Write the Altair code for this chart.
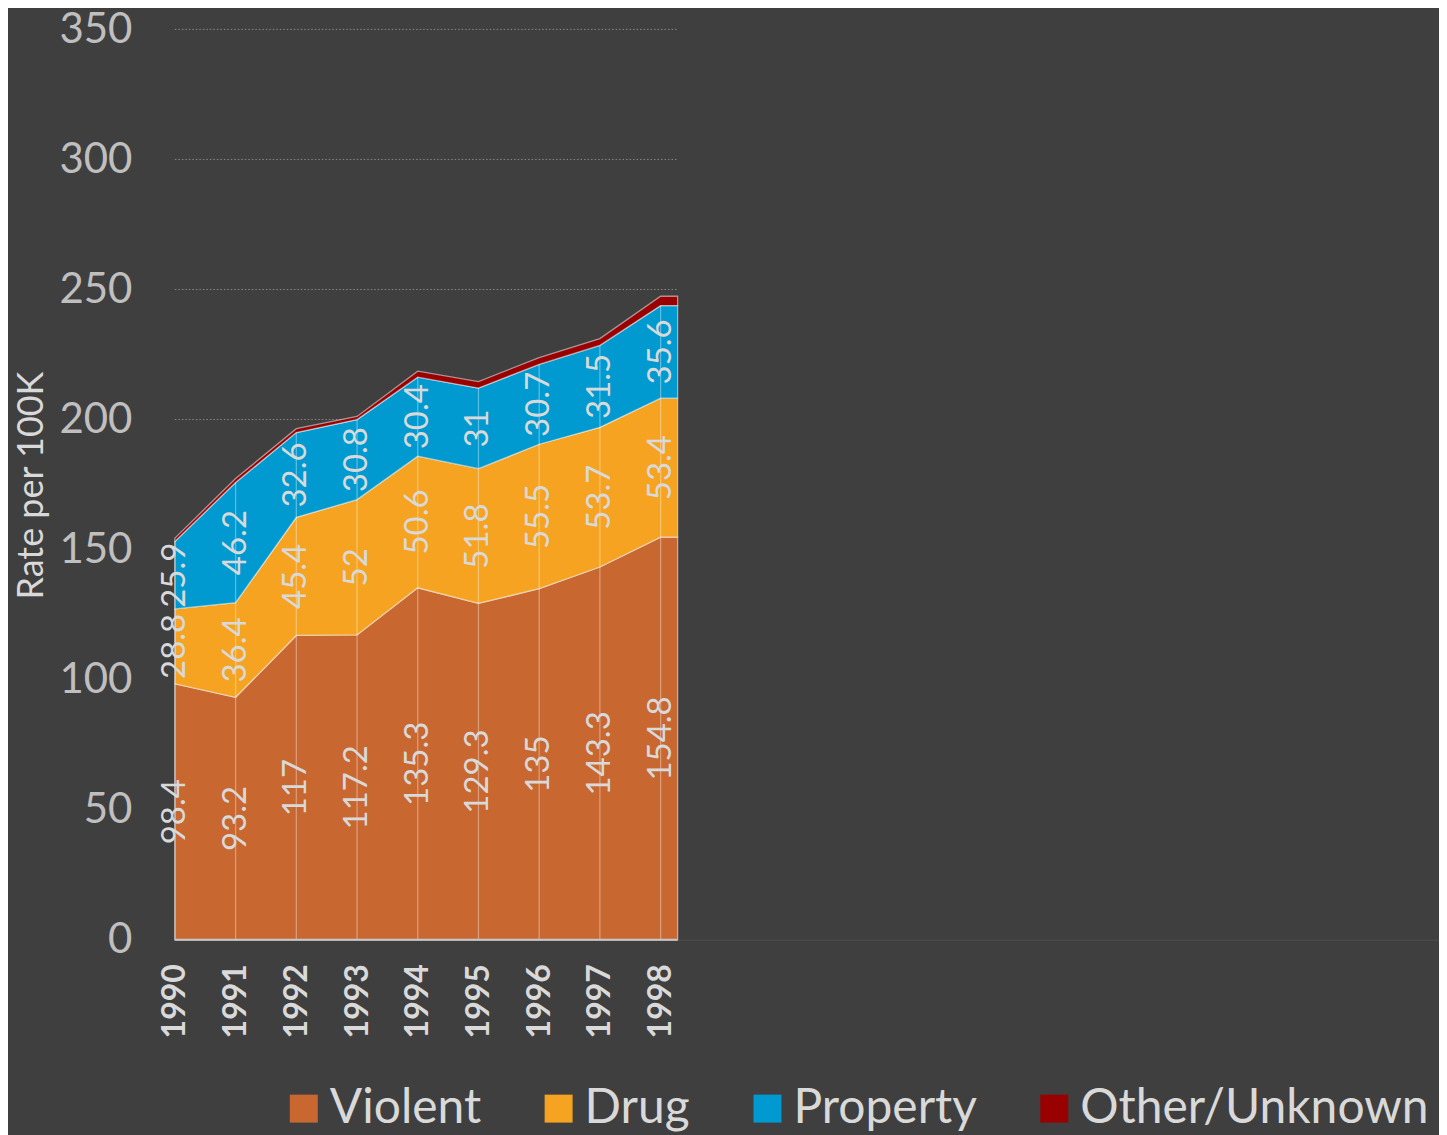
import altair as alt
import pandas as pd

years = [1990, 1991, 1992, 1993, 1994, 1995, 1996, 1997, 1998]
series = ["Violent", "Drug", "Property", "Other/Unknown"]
colors = ["#c8672f", "#f5a320", "#0099d0", "#990000"]
violent = [98.4, 93.2, 117, 117.2, 135.3, 129.3, 135, 143.3, 154.8]
drug = [28.8, 36.4, 45.4, 52, 50.6, 51.8, 55.5, 53.7, 53.4]
prop = [25.9, 46.2, 32.6, 30.8, 30.4, 31, 30.7, 31.5, 35.6]
other = [1.3, 1.5, 1.5, 1.2, 2.3, 2.5, 2.6, 2.6, 3.6]
y_ticks = [0, 50, 100, 150, 200, 250, 300, 350]

# style: how far the plotted band reaches past the last year (in x-units)
BAND_EXTEND = 0.28

values = [violent, drug, prop, other]
rows = []
for i, y in enumerate(years):
    base = 0.0
    for k, s in enumerate(series):
        v = values[k][i]
        rows.append({"year": y, "xpos": y, "series": s, "ord": k, "value": v,
                     "mid": base + v / 2, "label": f"{v:g}" if k < 3 else ""})
        base += v
df = pd.DataFrame(rows)
# the area band continues flat a little past the last year, as in the original
tail = df[df["year"] == years[-1]].copy()
tail["xpos"] = years[-1] + BAND_EXTEND
area_df = pd.concat([df, tail], ignore_index=True)

tot = pd.DataFrame({"year": years, "zero": [0] * len(years),
                    "total": [violent[i] + drug[i] + prop[i] for i in range(len(years))]})
grid_df = pd.DataFrame({"x": [years[0]] * len(y_ticks),
                        "x2": [years[-1] + BAND_EXTEND] * len(y_ticks),
                        "y": y_ticks})
base_df = pd.DataFrame({"x": [years[0]], "x2": [years[-1] + BAND_EXTEND], "y": [0]})

FONT = "Lato"
xscale = alt.Scale(domain=[1990, 2010.82], nice=False, zero=False)
yscale = alt.Scale(domain=[0, 350], nice=False)

grid = alt.Chart(grid_df).transform_filter("datum.y > 0").mark_rule(
    color="#8a8a8a", strokeDash=[1.5, 2], strokeWidth=1
).encode(
    x=alt.X("x:Q", scale=xscale), x2=alt.X2("x2:Q"), y=alt.Y("y:Q", scale=yscale)
)

area = alt.Chart(area_df).mark_area(
    stroke="#ffffff", strokeOpacity=0.5, strokeWidth=1.3, opacity=1
).encode(
    x=alt.X("xpos:Q", scale=xscale,
            axis=alt.Axis(values=years, format="d", title=None, grid=False, ticks=False,
                          domainColor="#4f4f4f", domainWidth=1,
                          labelAngle=270, labelFontWeight="bold", labelFontSize=32,
                          labelColor="#d9d9d9", labelPadding=24, labelFont=FONT)),
    y=alt.Y("value:Q", stack="zero", scale=yscale,
            axis=alt.Axis(values=y_ticks, title="Rate per 100K", domain=False, ticks=False,
                          grid=False,
                          labelFontSize=42, labelColor="#bfbfbf", labelPadding=43,
                          labelFont=FONT,
                          titleFont=FONT, titleFontSize=36, titleFontWeight="normal",
                          titleColor="#d9d9d9", titleAngle=270, titleX=-143, titleY=456,
                          titleAlign="center", titleBaseline="middle")),
    color=alt.Color("series:N", scale=alt.Scale(domain=series, range=colors),
                    sort=series,
                    legend=alt.Legend(orient="none", legendX=105, legendY=1056,
                                      direction="horizontal", title=None,
                                      symbolType="square", symbolSize=784,
                                      symbolStrokeWidth=0, labelFontSize=48,
                                      labelFont=FONT, labelColor="#d9d9d9",
                                      labelOffset=2, columnPadding=53,
                                      labelLimit=600, symbolOpacity=1)),
    order=alt.Order("ord:Q", sort="ascending"),
)

rules = alt.Chart(tot).mark_rule(color="#ffffff", opacity=0.35, strokeWidth=1.3).encode(
    x=alt.X("year:Q", scale=xscale),
    y=alt.Y("zero:Q", scale=yscale),
    y2=alt.Y2("total:Q"),
)

baseline = alt.Chart(base_df).mark_rule(color="#c8c8c8", strokeWidth=2).encode(
    x=alt.X("x:Q", scale=xscale), x2=alt.X2("x2:Q"), y=alt.Y("y:Q", scale=yscale)
)

labels = alt.Chart(df).transform_filter("datum.label != ''").mark_text(
    angle=270, align="center", baseline="middle", fontSize=33, font=FONT,
    color="#d9d9d9"
).encode(
    x=alt.X("year:Q", scale=xscale),
    y=alt.Y("mid:Q", scale=yscale),
    text=alt.Text("label:N"),
)

chart = alt.layer(grid, area, rules, baseline, labels).properties(
    width=1265, height=911,
    background="#3f3f3f",
    padding={"left": 167, "top": 21, "right": 0, "bottom": 195},
    autosize=alt.AutoSizeParams(type="none"),
).configure_view(stroke=None)

chart.save("out.html", embed_options={"renderer": "svg", "actions": False})
